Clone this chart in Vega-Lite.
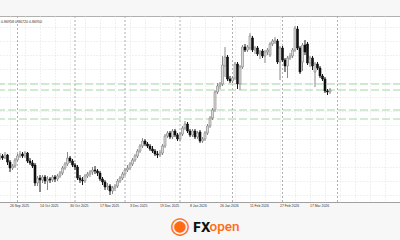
{
 "$schema": "https://vega.github.io/schema/vega-lite/v6.json",
 "width": {"step": 2.5},
 "height": 186,
 "autosize": "none",
 "padding": {"left": -21, "top": 16, "right": 0, "bottom": 38},
 "background": "#f7f7f7",
 "title": {"text": "0.86956 0.86958 0.86720 0.86950", "orient": "top", "anchor": "start", "frame": "group", "dx": 63, "align": "right", "offset": -11, "baseline": "alphabetic", "fontSize": 3.6, "font": "Liberation Sans", "fontWeight": "normal", "color": "#333333"},
 "datasets": {
  "candles": [
{"date":"2025-09-22","o":0.8644,"h":0.8649,"l":0.8642,"c":0.8646},
{"date":"2025-09-23","o":0.8646,"h":0.8648,"l":0.8642,"c":0.8644},
{"date":"2025-09-24","o":0.8644,"h":0.8650,"l":0.8643,"c":0.8647},
{"date":"2025-09-25","o":0.8647,"h":0.8648,"l":0.8637,"c":0.8640},
{"date":"2025-09-26","o":0.8640,"h":0.8642,"l":0.8630,"c":0.8634},
{"date":"2025-09-29","o":0.8634,"h":0.8638,"l":0.8632,"c":0.8636},
{"date":"2025-09-30","o":0.8636,"h":0.8644,"l":0.8634,"c":0.8642},
{"date":"2025-10-01","o":0.8642,"h":0.8648,"l":0.8640,"c":0.8646},
{"date":"2025-10-02","o":0.8646,"h":0.8651,"l":0.8644,"c":0.8648},
{"date":"2025-10-03","o":0.8648,"h":0.8650,"l":0.8644,"c":0.8646},
{"date":"2025-10-06","o":0.8646,"h":0.8651,"l":0.8644,"c":0.8649},
{"date":"2025-10-07","o":0.8649,"h":0.8650,"l":0.8639,"c":0.8641},
{"date":"2025-10-08","o":0.8641,"h":0.8644,"l":0.8637,"c":0.8639},
{"date":"2025-10-09","o":0.8639,"h":0.8642,"l":0.8634,"c":0.8636},
{"date":"2025-10-10","o":0.8637,"h":0.8639,"l":0.8616,"c":0.8619},
{"date":"2025-10-13","o":0.8619,"h":0.8626,"l":0.8616,"c":0.8624},
{"date":"2025-10-14","o":0.8624,"h":0.8627,"l":0.8610,"c":0.8622},
{"date":"2025-10-15","o":0.8622,"h":0.8627,"l":0.8619,"c":0.8625},
{"date":"2025-10-16","o":0.8625,"h":0.8627,"l":0.8618,"c":0.8621},
{"date":"2025-10-17","o":0.8621,"h":0.8626,"l":0.8612,"c":0.8623},
{"date":"2025-10-20","o":0.8623,"h":0.8625,"l":0.8619,"c":0.8622},
{"date":"2025-10-21","o":0.8622,"h":0.8627,"l":0.8620,"c":0.8625},
{"date":"2025-10-22","o":0.8625,"h":0.8627,"l":0.8620,"c":0.8623},
{"date":"2025-10-23","o":0.8623,"h":0.8628,"l":0.8621,"c":0.8626},
{"date":"2025-10-24","o":0.8626,"h":0.8631,"l":0.8624,"c":0.8629},
{"date":"2025-10-27","o":0.8629,"h":0.8636,"l":0.8627,"c":0.8634},
{"date":"2025-10-28","o":0.8634,"h":0.8640,"l":0.8632,"c":0.8638},
{"date":"2025-10-29","o":0.8638,"h":0.8650,"l":0.8636,"c":0.8644},
{"date":"2025-10-30","o":0.8644,"h":0.8646,"l":0.8639,"c":0.8641},
{"date":"2025-10-31","o":0.8641,"h":0.8643,"l":0.8635,"c":0.8637},
{"date":"2025-11-03","o":0.8637,"h":0.8639,"l":0.8632,"c":0.8635},
{"date":"2025-11-04","o":0.8635,"h":0.8637,"l":0.8622,"c":0.8624},
{"date":"2025-11-05","o":0.8624,"h":0.8627,"l":0.8619,"c":0.8622},
{"date":"2025-11-06","o":0.8622,"h":0.8625,"l":0.8617,"c":0.8621},
{"date":"2025-11-07","o":0.8621,"h":0.8628,"l":0.8619,"c":0.8626},
{"date":"2025-11-10","o":0.8626,"h":0.8630,"l":0.8624,"c":0.8628},
{"date":"2025-11-11","o":0.8628,"h":0.8632,"l":0.8625,"c":0.8630},
{"date":"2025-11-12","o":0.8630,"h":0.8635,"l":0.8627,"c":0.8632},
{"date":"2025-11-13","o":0.8632,"h":0.8636,"l":0.8628,"c":0.8631},
{"date":"2025-11-14","o":0.8631,"h":0.8633,"l":0.8626,"c":0.8629},
{"date":"2025-11-17","o":0.8629,"h":0.8631,"l":0.8621,"c":0.8623},
{"date":"2025-11-18","o":0.8623,"h":0.8625,"l":0.8617,"c":0.8620},
{"date":"2025-11-19","o":0.8620,"h":0.8622,"l":0.8612,"c":0.8615},
{"date":"2025-11-20","o":0.8615,"h":0.8619,"l":0.8612,"c":0.8616},
{"date":"2025-11-21","o":0.8616,"h":0.8618,"l":0.8607,"c":0.8611},
{"date":"2025-11-24","o":0.8611,"h":0.8616,"l":0.8608,"c":0.8614},
{"date":"2025-11-25","o":0.8614,"h":0.8618,"l":0.8611,"c":0.8616},
{"date":"2025-11-26","o":0.8616,"h":0.8623,"l":0.8614,"c":0.8621},
{"date":"2025-11-27","o":0.8621,"h":0.8626,"l":0.8619,"c":0.8624},
{"date":"2025-11-28","o":0.8624,"h":0.8630,"l":0.8622,"c":0.8628},
{"date":"2025-12-01","o":0.8628,"h":0.8634,"l":0.8626,"c":0.8632},
{"date":"2025-12-02","o":0.8632,"h":0.8637,"l":0.8630,"c":0.8634},
{"date":"2025-12-03","o":0.8634,"h":0.8640,"l":0.8632,"c":0.8638},
{"date":"2025-12-04","o":0.8638,"h":0.8644,"l":0.8636,"c":0.8642},
{"date":"2025-12-05","o":0.8642,"h":0.8648,"l":0.8640,"c":0.8646},
{"date":"2025-12-08","o":0.8646,"h":0.8653,"l":0.8644,"c":0.8651},
{"date":"2025-12-09","o":0.8651,"h":0.8658,"l":0.8649,"c":0.8656},
{"date":"2025-12-10","o":0.8656,"h":0.8664,"l":0.8654,"c":0.8661},
{"date":"2025-12-11","o":0.8661,"h":0.8663,"l":0.8656,"c":0.8658},
{"date":"2025-12-12","o":0.8658,"h":0.8660,"l":0.8654,"c":0.8656},
{"date":"2025-12-15","o":0.8656,"h":0.8658,"l":0.8651,"c":0.8653},
{"date":"2025-12-16","o":0.8653,"h":0.8656,"l":0.8649,"c":0.8651},
{"date":"2025-12-17","o":0.8651,"h":0.8653,"l":0.8646,"c":0.8648},
{"date":"2025-12-18","o":0.8648,"h":0.8651,"l":0.8644,"c":0.8647},
{"date":"2025-12-19","o":0.8647,"h":0.8652,"l":0.8645,"c":0.8649},
{"date":"2025-12-22","o":0.8649,"h":0.8658,"l":0.8647,"c":0.8656},
{"date":"2025-12-23","o":0.8656,"h":0.8668,"l":0.8654,"c":0.8666},
{"date":"2025-12-24","o":0.8666,"h":0.8671,"l":0.8664,"c":0.8669},
{"date":"2025-12-26","o":0.8669,"h":0.8671,"l":0.8663,"c":0.8665},
{"date":"2025-12-29","o":0.8665,"h":0.8673,"l":0.8663,"c":0.8671},
{"date":"2025-12-30","o":0.8671,"h":0.8673,"l":0.8665,"c":0.8667},
{"date":"2025-12-31","o":0.8667,"h":0.8669,"l":0.8661,"c":0.8663},
{"date":"2026-01-02","o":0.8663,"h":0.8670,"l":0.8661,"c":0.8668},
{"date":"2026-01-05","o":0.8668,"h":0.8676,"l":0.8666,"c":0.8674},
{"date":"2026-01-06","o":0.8674,"h":0.8681,"l":0.8672,"c":0.8678},
{"date":"2026-01-07","o":0.8678,"h":0.8680,"l":0.8669,"c":0.8671},
{"date":"2026-01-08","o":0.8671,"h":0.8673,"l":0.8665,"c":0.8667},
{"date":"2026-01-09","o":0.8667,"h":0.8673,"l":0.8665,"c":0.8671},
{"date":"2026-01-12","o":0.8671,"h":0.8673,"l":0.8663,"c":0.8665},
{"date":"2026-01-13","o":0.8665,"h":0.8671,"l":0.8663,"c":0.8669},
{"date":"2026-01-14","o":0.8670,"h":0.8672,"l":0.8659,"c":0.8661},
{"date":"2026-01-15","o":0.8661,"h":0.8665,"l":0.8659,"c":0.8663},
{"date":"2026-01-16","o":0.8663,"h":0.8671,"l":0.8661,"c":0.8669},
{"date":"2026-01-19","o":0.8669,"h":0.8678,"l":0.8667,"c":0.8676},
{"date":"2026-01-20","o":0.8676,"h":0.8686,"l":0.8674,"c":0.8684},
{"date":"2026-01-21","o":0.8684,"h":0.8694,"l":0.8682,"c":0.8692},
{"date":"2026-01-22","o":0.8692,"h":0.8712,"l":0.8690,"c":0.8710},
{"date":"2026-01-23","o":0.8710,"h":0.8719,"l":0.8708,"c":0.8716},
{"date":"2026-01-26","o":0.8716,"h":0.8720,"l":0.8713,"c":0.8718},
{"date":"2026-01-27","o":0.8718,"h":0.8746,"l":0.8716,"c":0.8737},
{"date":"2026-01-28","o":0.8736,"h":0.8755,"l":0.8725,"c":0.8745},
{"date":"2026-01-29","o":0.8745,"h":0.8747,"l":0.8721,"c":0.8723},
{"date":"2026-01-30","o":0.8723,"h":0.8726,"l":0.8719,"c":0.8721},
{"date":"2026-02-02","o":0.8721,"h":0.8726,"l":0.8719,"c":0.8724},
{"date":"2026-02-03","o":0.8724,"h":0.8740,"l":0.8722,"c":0.8738},
{"date":"2026-02-04","o":0.8738,"h":0.8740,"l":0.8713,"c":0.8718},
{"date":"2026-02-05","o":0.8718,"h":0.8737,"l":0.8712,"c":0.8735},
{"date":"2026-02-06","o":0.8735,"h":0.8757,"l":0.8733,"c":0.8755},
{"date":"2026-02-09","o":0.8755,"h":0.8758,"l":0.8750,"c":0.8752},
{"date":"2026-02-10","o":0.8752,"h":0.8757,"l":0.8750,"c":0.8755},
{"date":"2026-02-11","o":0.8754,"h":0.8769,"l":0.8752,"c":0.8766},
{"date":"2026-02-12","o":0.8764,"h":0.8766,"l":0.8750,"c":0.8752},
{"date":"2026-02-13","o":0.8752,"h":0.8756,"l":0.8748,"c":0.8754},
{"date":"2026-02-16","o":0.8754,"h":0.8756,"l":0.8746,"c":0.8748},
{"date":"2026-02-17","o":0.8748,"h":0.8752,"l":0.8743,"c":0.8750},
{"date":"2026-02-18","o":0.8751,"h":0.8753,"l":0.8744,"c":0.8746},
{"date":"2026-02-19","o":0.8746,"h":0.8752,"l":0.8739,"c":0.8750},
{"date":"2026-02-20","o":0.8750,"h":0.8754,"l":0.8747,"c":0.8752},
{"date":"2026-02-23","o":0.8747,"h":0.8760,"l":0.8745,"c":0.8758},
{"date":"2026-02-24","o":0.8758,"h":0.8763,"l":0.8756,"c":0.8761},
{"date":"2026-02-25","o":0.8760,"h":0.8765,"l":0.8758,"c":0.8762},
{"date":"2026-02-26","o":0.8761,"h":0.8763,"l":0.8738,"c":0.8740},
{"date":"2026-02-27","o":0.8740,"h":0.8756,"l":0.8722,"c":0.8754},
{"date":"2026-03-02","o":0.8754,"h":0.8756,"l":0.8740,"c":0.8742},
{"date":"2026-03-03","o":0.8742,"h":0.8744,"l":0.8730,"c":0.8736},
{"date":"2026-03-04","o":0.8736,"h":0.8746,"l":0.8724,"c":0.8744},
{"date":"2026-03-05","o":0.8744,"h":0.8749,"l":0.8742,"c":0.8746},
{"date":"2026-03-06","o":0.8746,"h":0.8754,"l":0.8744,"c":0.8752},
{"date":"2026-03-09","o":0.8752,"h":0.8776,"l":0.8750,"c":0.8774},
{"date":"2026-03-10","o":0.8773,"h":0.8776,"l":0.8752,"c":0.8754},
{"date":"2026-03-11","o":0.8754,"h":0.8756,"l":0.8728,"c":0.8730},
{"date":"2026-03-12","o":0.8740,"h":0.8759,"l":0.8731,"c":0.8757},
{"date":"2026-03-13","o":0.8757,"h":0.8762,"l":0.8747,"c":0.8750},
{"date":"2026-03-16","o":0.8758,"h":0.8760,"l":0.8737,"c":0.8739},
{"date":"2026-03-17","o":0.8739,"h":0.8746,"l":0.8735,"c":0.8744},
{"date":"2026-03-18","o":0.8744,"h":0.8746,"l":0.8732,"c":0.8736},
{"date":"2026-03-19","o":0.8730,"h":0.8740,"l":0.8715,"c":0.8738},
{"date":"2026-03-20","o":0.8738,"h":0.8740,"l":0.8732,"c":0.8734},
{"date":"2026-03-23","o":0.8734,"h":0.8736,"l":0.8724,"c":0.8726},
{"date":"2026-03-24","o":0.8726,"h":0.8728,"l":0.8721,"c":0.8723},
{"date":"2026-03-25","o":0.8723,"h":0.8725,"l":0.8709,"c":0.8711},
{"date":"2026-03-26","o":0.8711,"h":0.8713,"l":0.8707,"c":0.8710},
{"date":"2026-03-27","o":0.8710,"h":0.8714,"l":0.8708,"c":0.8712}
  ],
  "levels": [
   {"kind": "level", "value": 0.8718},
   {"kind": "level", "value": 0.8712},
   {"kind": "level", "value": 0.8692},
   {"kind": "level", "value": 0.8683}
  ],
  "months": [
   {"date": "2025-10-01"}, {"date": "2025-11-03"}, {"date": "2025-12-01"}, {"date": "2026-01-02"},
   {"date": "2026-02-02"}, {"date": "2026-03-02"}, {"date": "2026-04-01"}
  ]
 },
 "layer": [
  {
   "data": {"name": "levels"},
   "mark": {"type": "rule", "strokeDash": [8, 3], "strokeWidth": 1},
   "encoding": {
    "y": {"field": "value", "type": "quantitative", "title": "◉", "scale": {"domain": [0.86, 0.8786], "nice": false, "zero": false},
     "axis": {"values": [0.8607, 0.8621, 0.8635, 0.8649, 0.8663, 0.8677, 0.8691, 0.8705, 0.8719, 0.8733, 0.8747, 0.8761, 0.8775],
      "grid": true, "gridColor": "#e3e3e3", "gridDash": [1, 2], "labels": false, "ticks": false, "domain": false,
      "title": "◉", "titleAngle": 0, "titleX": 200.5, "titleY": 209, "titleAlign": "center", "titleBaseline": "middle", "titleFontSize": 23, "titleFont": "DejaVu Sans", "titleFontWeight": "normal", "titleColor": "#ff6a13"}},
    "color": {"field": "kind", "type": "nominal", "scale": {"range": ["#a6d6a6"]},
     "legend": {"orient": "none", "legendX": 230.5, "legendY": 215, "title": "open", "titleColor": "#ff6a13", "titleFont": "Roboto", "titleFontSize": 13.5, "titleFontWeight": 500, "titleBaseline": "alphabetic", "titlePadding": 0, "padding": 0, "labelExpr": "''", "labelOpacity": 0, "labelFontSize": 1, "symbolOpacity": 0, "symbolStrokeWidth": 0, "symbolSize": 1}}
   }
  },
  {
   "encoding": {
    "x": {"field": "date", "type": "ordinal", "sort": null,
     "scale": {"type": "band", "paddingInner": 0.2, "paddingOuter": 0, "domain": [
"2025-09-10","2025-09-11","2025-09-12","2025-09-15","2025-09-16","2025-09-17","2025-09-18","2025-09-19","2025-09-22","2025-09-23","2025-09-24","2025-09-25","2025-09-26","2025-09-29","2025-09-30",
"2025-10-01","2025-10-02","2025-10-03","2025-10-06","2025-10-07","2025-10-08","2025-10-09","2025-10-10","2025-10-13","2025-10-14","2025-10-15","2025-10-16","2025-10-17","2025-10-20","2025-10-21","2025-10-22","2025-10-23","2025-10-24","2025-10-27","2025-10-28","2025-10-29","2025-10-30","2025-10-31",
"2025-11-03","2025-11-04","2025-11-05","2025-11-06","2025-11-07","2025-11-10","2025-11-11","2025-11-12","2025-11-13","2025-11-14","2025-11-17","2025-11-18","2025-11-19","2025-11-20","2025-11-21","2025-11-24","2025-11-25","2025-11-26","2025-11-27","2025-11-28",
"2025-12-01","2025-12-02","2025-12-03","2025-12-04","2025-12-05","2025-12-08","2025-12-09","2025-12-10","2025-12-11","2025-12-12","2025-12-15","2025-12-16","2025-12-17","2025-12-18","2025-12-19","2025-12-22","2025-12-23","2025-12-24","2025-12-26","2025-12-29","2025-12-30","2025-12-31",
"2026-01-02","2026-01-05","2026-01-06","2026-01-07","2026-01-08","2026-01-09","2026-01-12","2026-01-13","2026-01-14","2026-01-15","2026-01-16","2026-01-19","2026-01-20","2026-01-21","2026-01-22","2026-01-23","2026-01-26","2026-01-27","2026-01-28","2026-01-29","2026-01-30",
"2026-02-02","2026-02-03","2026-02-04","2026-02-05","2026-02-06","2026-02-09","2026-02-10","2026-02-11","2026-02-12","2026-02-13","2026-02-16","2026-02-17","2026-02-18","2026-02-19","2026-02-20","2026-02-23","2026-02-24","2026-02-25","2026-02-26","2026-02-27",
"2026-03-02","2026-03-03","2026-03-04","2026-03-05","2026-03-06","2026-03-09","2026-03-10","2026-03-11","2026-03-12","2026-03-13","2026-03-16","2026-03-17","2026-03-18","2026-03-19","2026-03-20","2026-03-23","2026-03-24","2026-03-25","2026-03-26","2026-03-27","2026-03-30","2026-03-31",
"2026-04-01","2026-04-02","2026-04-03","2026-04-06","2026-04-07","2026-04-08","2026-04-09","2026-04-10","2026-04-13","2026-04-14","2026-04-15","2026-04-16","2026-04-17","2026-04-20","2026-04-21","2026-04-22","2026-04-23","2026-04-24","2026-04-27","2026-04-28","2026-04-29","2026-04-30",
"2026-05-01","2026-05-04","2026-05-05","2026-05-06"]},
     "axis": {
      "values": ["2025-09-10","2025-09-18","2025-09-26","2025-10-06","2025-10-14","2025-10-22","2025-10-30","2025-11-07","2025-11-17","2025-11-25","2025-12-03","2025-12-11","2025-12-19","2025-12-30","2026-01-08","2026-01-16","2026-01-26","2026-02-03","2026-02-11","2026-02-19","2026-02-27","2026-03-09","2026-03-17","2026-03-25","2026-04-02","2026-04-10","2026-04-20","2026-04-28","2026-05-06"],
      "bandPosition": 0.5,
      "labelExpr": "indexof(['2025-09-10','2025-09-26','2025-10-14','2025-10-30','2025-11-17','2025-12-03','2025-12-19','2026-01-08','2026-01-26','2026-02-11','2026-02-27','2026-03-17'], datum.value) >= 0 ? utcFormat(toDate(datum.value), '%-d %b %Y') : ''",
      "grid": true, "gridColor": "#e3e3e3", "gridDash": [1, 2],
      "ticks": false, "domainColor": "#a0a0a0",
      "labelAlign": "left", "labelBaseline": "top", "labelPadding": 1.5, "labelFontSize": 3.4, "labelFont": "Liberation Sans", "labelColor": "#333333",
      "labelOverlap": false, "labelFlush": false, "labelBound": false, "labelAngle": 0,
      "title": "FX", "titleX": 213.7, "titleY": 29, "titleAlign": "left", "titleBaseline": "alphabetic", "titleFontSize": 13, "titleFont": "Inter", "titleFontWeight": 800, "titleColor": "#111111"
     }
    }
   },
   "layer": [
    {
     "data": {"name": "months"},
     "mark": {"type": "rule", "color": "#b0b0b0", "strokeDash": [2, 2], "strokeWidth": 1},
     "encoding": {}
    },
    {
     "data": {"name": "candles"},
     "mark": {"type": "rule", "strokeWidth": 1},
     "encoding": {
      "y": {"field": "l", "type": "quantitative", "title": "◉", "scale": {"domain": [0.86, 0.8786], "nice": false, "zero": false},
       "axis": {"values": [0.8607, 0.8621, 0.8635, 0.8649, 0.8663, 0.8677, 0.8691, 0.8705, 0.8719, 0.8733, 0.8747, 0.8761, 0.8775],
        "grid": true, "gridColor": "#e3e3e3", "gridDash": [1, 2], "labels": false, "ticks": false, "domain": false,
        "title": "◉", "titleAngle": 0, "titleX": 200.5, "titleY": 209, "titleAlign": "center", "titleBaseline": "middle", "titleFontSize": 23, "titleFont": "DejaVu Sans", "titleFontWeight": "normal", "titleColor": "#ff6a13"}},
      "y2": {"field": "h"},
      "color": {"condition": {"test": "datum.c >= datum.o", "value": "#8a8a8a"}, "value": "#1a1a1a"}
     }
    },
    {
     "data": {"name": "candles"},
     "mark": {"type": "bar", "strokeWidth": 0.6},
     "encoding": {
      "y": {"field": "o", "type": "quantitative", "title": "◉", "scale": {"domain": [0.86, 0.8786], "nice": false, "zero": false},
       "axis": {"values": [0.8607, 0.8621, 0.8635, 0.8649, 0.8663, 0.8677, 0.8691, 0.8705, 0.8719, 0.8733, 0.8747, 0.8761, 0.8775],
        "grid": true, "gridColor": "#e3e3e3", "gridDash": [1, 2], "labels": false, "ticks": false, "domain": false,
        "title": "◉", "titleAngle": 0, "titleX": 200.5, "titleY": 209, "titleAlign": "center", "titleBaseline": "middle", "titleFontSize": 23, "titleFont": "DejaVu Sans", "titleFontWeight": "normal", "titleColor": "#ff6a13"}},
      "y2": {"field": "c"},
      "fill": {"condition": {"test": "datum.c >= datum.o", "value": "#dadada"}, "value": "#111111"},
      "stroke": {"condition": {"test": "datum.c >= datum.o", "value": "#808080"}, "value": "#111111"}
     }
    }
   ]
  }
 ],
 "config": {"view": {"fill": "#ffffff", "stroke": "#b0b0b0"}}
}
